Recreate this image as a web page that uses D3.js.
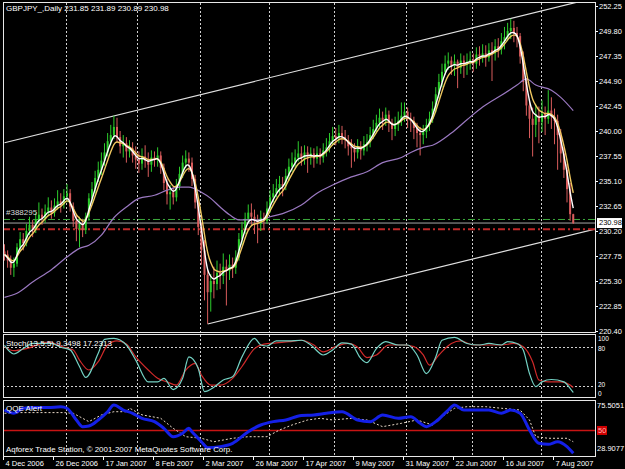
<!DOCTYPE html>
<html>
<meta charset="utf-8">
<style>
body { margin: 0; background: #000; }
text { font-family: "Liberation Sans", Arial, sans-serif; font-size: 8px; fill: #fff; }
.axis path, .axis line { fill: none; stroke: #fff; shape-rendering: crispEdges; }
.axis text, .scale { font-size: 7.5px; }
.frame { fill: none; stroke: #e8e8e8; shape-rendering: crispEdges; }
.grid { stroke: #d0d0d0; stroke-dasharray: 2,2; shape-rendering: crispEdges; }
</style>
<body>
<div id="chart"></div>

<script src="https://d3js.org/d3.v7.min.js"></script>
<script>

// ---- data (GBPJPY daily, 4 Dec 2006 .. mid Aug 2007) ----
var firstOpen = 228.2;
var closes = [
  227.9, 227.3, 226.6, 227.0, 228.6, 229.4, 229.0, 230.2, 230.8, 230.4,
  231.3, 231.8, 231.4, 232.1, 232.5, 232.0, 232.7, 233.1, 232.8, 233.6,
  233.9, 232.6, 231.2, 230.4, 230.9, 230.3, 231.6, 233.4, 234.3, 235.4,
  236.2, 237.1, 237.9, 239.0, 239.6, 240.4, 239.4, 238.5, 238.8, 238.0,
  238.3, 237.6, 237.2, 236.8, 237.5, 237.1, 236.7, 237.4, 237.2, 237.6,
  236.4, 234.9, 233.8, 234.0, 233.5, 234.6, 235.8, 236.9, 237.3, 236.9,
  235.3, 233.0, 230.6, 228.3, 225.9, 224.2, 225.3, 225.0, 226.1, 225.8,
  226.7, 226.3, 226.9, 226.6, 227.6, 229.4, 230.3, 231.4, 232.0, 231.6,
  231.2, 230.9, 231.5, 231.2, 232.4, 233.5, 233.9, 234.4, 234.8, 234.6,
  235.6, 236.5, 236.9, 237.4, 237.8, 237.3, 237.9, 237.5, 237.8, 237.3,
  237.8, 237.4, 238.1, 238.4, 239.0, 239.5, 239.3, 239.8, 239.4, 239.1,
  238.5, 238.3, 237.9, 238.5, 238.1, 238.7, 238.9, 239.6, 240.2, 240.8,
  241.3, 241.0, 241.6, 240.8, 240.2, 240.6, 241.0, 241.5, 241.9, 241.2,
  241.0, 240.3, 239.8, 239.6, 239.9, 240.6, 241.2, 242.2, 243.6, 244.8,
  245.8, 246.6, 246.9, 246.4, 246.8, 246.2, 246.9, 246.5, 246.8, 247.0,
  246.6, 247.5, 247.3, 247.6, 247.2, 247.9, 247.6, 248.3, 248.0, 248.8,
  249.2, 249.8, 250.1, 249.6, 249.3, 247.3, 244.8, 242.5, 241.2, 240.6,
  241.5, 240.9, 241.7, 241.2, 242.0, 241.4, 241.0, 239.6, 237.8, 236.2,
  234.3, 231.85, 230.98];
var highs = [
  228.9, 228.3, 227.8, 227.6, 229.0, 230.1, 230.0, 230.9, 231.6, 231.3,
  232.0, 233.0, 232.4, 232.8, 233.5, 233.2, 233.4, 234.2, 233.9, 234.3,
  234.8, 234.3, 233.0, 231.8, 231.6, 231.4, 232.0, 233.9, 235.0, 236.1,
  237.0, 237.9, 238.8, 239.8, 240.6, 241.5, 241.3, 240.0, 239.6, 239.4,
  239.1, 238.9, 238.5, 238.0, 238.3, 238.6, 237.9, 238.1, 238.0, 238.4,
  238.0, 236.8, 235.3, 234.7, 234.5, 235.3, 236.5, 237.6, 238.1, 237.9,
  237.4, 235.7, 233.4, 231.0, 229.3, 226.4, 226.0, 226.7, 227.3, 227.0,
  228.0, 227.4, 227.9, 227.6, 228.3, 230.0, 231.1, 232.0, 232.8, 232.9,
  232.3, 231.8, 232.2, 232.0, 233.1, 234.2, 234.8, 235.3, 235.6, 235.5,
  236.3, 237.3, 237.9, 238.2, 239.0, 238.5, 238.6, 238.5, 238.4, 238.3,
  238.5, 238.3, 238.8, 239.3, 239.8, 240.4, 240.3, 240.6, 240.5, 240.1,
  239.6, 239.2, 238.8, 239.2, 239.0, 239.5, 239.7, 240.4, 241.1, 241.6,
  242.2, 241.9, 242.3, 242.0, 241.2, 241.4, 241.9, 242.8, 242.8, 242.3,
  241.8, 241.4, 240.8, 240.4, 240.6, 241.2, 241.9, 242.9, 244.3, 245.6,
  246.6, 247.4, 247.7, 247.3, 247.5, 247.0, 247.6, 247.4, 247.6, 247.8,
  247.6, 248.2, 248.3, 248.5, 248.4, 248.6, 248.7, 249.0, 249.1, 249.6,
  250.2, 250.6, 251.0, 250.8, 250.2, 249.6, 247.8, 245.2, 243.0, 242.3,
  242.6, 242.4, 243.0, 242.4, 244.0, 243.3, 242.2, 241.6, 240.2, 238.4,
  236.8, 234.9, 231.89];
var lows = [
  227.3, 226.6, 225.9, 225.7, 226.7, 228.2, 228.3, 228.7, 229.8, 229.6,
  230.0, 231.0, 230.8, 231.0, 231.7, 231.4, 231.6, 232.3, 232.0, 232.4,
  233.0, 232.1, 230.6, 229.2, 228.6, 229.6, 229.9, 231.2, 232.9, 233.9,
  235.0, 235.7, 236.6, 237.5, 238.6, 239.2, 238.9, 237.8, 237.4, 236.9,
  237.4, 236.9, 236.3, 235.9, 236.2, 236.4, 235.5, 236.0, 236.5, 236.5,
  235.8, 234.2, 232.8, 232.3, 232.8, 233.1, 234.2, 235.4, 236.4, 236.0,
  234.6, 232.4, 229.8, 226.9, 223.4, 221.1, 222.3, 223.6, 224.4, 224.5,
  225.0, 222.9, 225.4, 225.6, 226.0, 227.3, 228.8, 229.9, 231.0, 230.8,
  229.9, 229.0, 230.2, 230.4, 230.9, 232.0, 233.0, 233.5, 233.8, 233.6,
  234.2, 235.1, 236.0, 236.4, 237.0, 236.6, 236.7, 235.9, 236.7, 236.4,
  236.8, 236.7, 236.9, 237.5, 237.9, 238.7, 238.6, 238.8, 238.7, 238.3,
  237.6, 236.4, 237.0, 237.3, 237.2, 237.6, 238.0, 238.4, 239.2, 239.8,
  240.3, 240.1, 240.5, 239.9, 239.1, 239.5, 240.0, 240.5, 240.9, 240.3,
  239.9, 239.2, 238.4, 237.6, 238.7, 239.3, 240.0, 240.8, 241.8, 243.2,
  244.3, 245.5, 246.0, 245.5, 245.4, 244.2, 245.6, 245.2, 245.5, 246.0,
  245.8, 246.1, 246.4, 246.7, 246.3, 246.8, 244.9, 246.9, 247.2, 247.5,
  248.0, 248.8, 249.0, 248.7, 248.2, 246.6, 243.9, 241.5, 239.3, 237.5,
  239.4, 238.8, 239.9, 239.6, 240.7, 240.2, 238.7, 236.2, 236.9, 235.4,
  233.0, 231.2, 230.89];

// slow moving average (purple), [bar, value]
var slowMa = [[0,223.7],[4,224.1],[9,225.2],[15,226.4],[20,227.65],[24,228.5],[27,228.8],
  [31,229.8],[35,231.5],[39,232.55],[43,233.4],[48,233.7],[52,234.2],[56,234.5],[59,234.5],
  [63,234.0],[66,233.4],[69,232.55],[72,231.8],[75,231.3],[82,231.3],[85,231.6],[89,231.9],
  [95,232.75],[100,233.9],[105,234.7],[111,235.5],[116,236.0],[121,236.9],[127,237.4],
  [130,237.9],[134,238.4],[137,238.6],[143,239.8],[148,241.1],[153,242.35],[159,243.5],
  [164,244.5],[167,245.1],[170,244.5],[175,244.0],[178,243.3],[182,242.0]];

// channel lines, anchors [bar, price]
var upperChannel = [[0, 238.85], [182, 252.53]];
var lowerChannel = [[65, 221.09], [182, 229.87]];

// order lines
var orderPrice = 231.33, stopPrice = 230.37, bidPrice = 230.98;
var orderLabel = "#388295";
var title = "GBPJPY_,Daily  231.85 231.89 230.89 230.98";

var priceTicks = [252.25, 249.80, 247.35, 244.90, 242.45, 240.00, 237.55, 235.10,
  232.65, 230.20, 227.75, 225.30, 222.85, 220.40];

// Stochastic(13,5,5), [bar, value]
var stochMain = [[0,83],[3,69.5],[6,78],[9,86],[15,86],[18,80],[21,76],[24,50],[26,33],
  [30,70.6],[32,92.5],[35,94],[39,83.6],[42,60],[46,26],[49,26],[51,31.5],[54,14],[57,31.5],
  [59,65],[62,47],[64,10.6],[67,17.5],[70,29],[73,34],[76,65],[80,94],[82,83.6],[84,82],
  [87,90],[91,90],[95,91],[98,83.6],[102,68],[105,75.8],[108,87],[111,85],[114,62.8],
  [116,56],[119,78],[122,88.8],[126,83.6],[129,83.6],[132,68],[135,39],[138,65],[140,91],
  [144,95.6],[148,86],[152,83.6],[155,86],[159,83.6],[161,88.8],[164,86],[166,75.8],
  [168,39],[170,18.5],[172,26],[175,29.7],[179,26],[181,16],[182,9.35]];
var stochSignal = [[0,81],[3,74.7],[7,78],[14,88],[19,80],[22,75.8],[24,60],[27,44.5],
  [30,57.5],[33,83.6],[36,90],[39,85],[42,65],[46,44.5],[49,31.5],[52,26],[55,21],[58,44.5],
  [61,55],[63,36.7],[66,21],[69,21],[73,31.5],[76,50],[80,78],[83,85],[87,87],[91,88.8],
  [95,91],[99,83.6],[102,73],[106,81],[110,86],[113,80],[116,64],[119,68],[123,83.6],
  [128,83.6],[131,81],[134,68],[136,52],[139,68],[143,86],[146,90],[150,83.6],[154,83.6],
  [159,83.6],[163,86],[166,81],[169,57.5],[171,29],[174,26],[178,26],[181,21],[182,17.23]];
var stochLevels = [80, 20];
var stochLabels = [100, 80, 20, 0];
var stochText = "Stoch(13,5,5) 9.3498 17.2313";

// QQE, [bar, value]
var qqeRsi = [[0,68.3],[3,65.4],[6,69.9],[9,70.5],[14,70.5],[18,71.3],[20,69.9],[23,59.4],
  [25,53.4],[27,54],[30,59.4],[33,66.8],[35,72.8],[38,68.3],[41,65.4],[44,60.9],[48,57.9],
  [51,51.9],[54,44.4],[57,47.5],[59,51.9],[60,48.9],[63,39.9],[65,34.6],[69,35.5],[73,38.5],
  [78,48.9],[82,54.9],[86,57.9],[90,59.4],[95,63.5],[99,63.9],[103,65.4],[108,66.8],
  [113,59.4],[117,57.9],[121,63.9],[126,60.9],[130,62.4],[133,56.4],[135,53.4],[138,57.9],
  [142,68.3],[144,72.8],[147,68.3],[151,68.3],[155,68.3],[159,65.4],[162,68.3],[165,65.4],
  [168,50.4],[171,38.5],[174,37.6],[177,39.9],[180,35.5],[182,29.5]];
var qqeTrail = [[0,65.4],[5,66],[19,66],[22,65.4],[27,57.9],[31,63.9],[35,66.8],[39,66.8],
  [40,70],[44,64],[50,60.9],[54,51.9],[58,44.4],[63,43],[67,39.9],[73,43],[78,44.4],
  [84,44.4],[88,50.4],[92,54.9],[97,59.4],[101,60.9],[105,59.4],[111,60.9],[116,59.4],
  [121,53.4],[127,56.4],[132,59.4],[137,54.9],[140,62.4],[144,69.9],[148,71.3],[154,71.3],
  [159,69.9],[165,68.3],[168,59.4],[170,44.4],[174,43],[180,43],[182,39.9]];
var qqeMax = 75.5051, qqeMin = 28.9077, qqeLevel = 50;
var qqeText = "QQE Alert";
var copyright = "Aqforex Trade Station, \u00a9 2001-2007 MetaQuotes Software Corp.";

// time axis
var dateBars = [0, 16, 32, 48, 64, 80, 96, 112, 128, 144, 160, 176];
var dateLabels = ["4 Dec 2006", "26 Dec 2006", "17 Jan 2007", "8 Feb 2007", "2 Mar 2007",
  "26 Mar 2007", "17 Apr 2007", "9 May 2007", "31 May 2007", "22 Jun 2007",
  "16 Jul 2007", "7 Aug 2007"];
var gridBars = [20, 43, 63, 85, 106, 129, 150, 172];

// ---- layout ----
var W = 625, H = 469;
var left = 3, right = 595;
var main = {top: 2.5, bottom: 332.5},
    stochP = {top: 334.5, bottom: 397.5},
    qqeP = {top: 400.5, bottom: 456.5};

var x = d3.scaleLinear().domain([0, 182]).range([4.5, 573.25]);
var y = d3.scaleLinear().domain([220.40, 252.25]).range([331, 6]);
var yS = d3.scaleLinear().domain([0, 100]).range([398.5, 334.5]);
var yQ = d3.scaleLinear().domain([qqeMin, qqeMax]).range([454, 402]);

var svg = d3.select("#chart").append("svg")
    .attr("width", W)
    .attr("height", H)
    .style("display", "block")
    .style("background", "#000");

svg.append("clipPath").attr("id", "mainClip")
  .append("rect")
    .attr("x", left).attr("y", main.top)
    .attr("width", right - left).attr("height", main.bottom - main.top);

// vertical dotted grid in all three windows
[main, stochP, qqeP].forEach(function(p) {
  svg.append("g").selectAll("line")
    .data(gridBars)
    .enter().append("line")
      .attr("class", "grid")
      .attr("x1", function(d) { return Math.round(x(d) - 1.5) + 0.5; })
      .attr("x2", function(d) { return Math.round(x(d) - 1.5) + 0.5; })
      .attr("y1", p.top)
      .attr("y2", p.bottom);
});

// ---- main window ----
var gMain = svg.append("g").attr("clip-path", "url(#mainClip)");

function trend(a) {
  var slope = (a[1][1] - a[0][1]) / (a[1][0] - a[0][0]);
  var endBar = 195;
  return [[a[0][0], a[0][1]], [endBar, a[0][1] + slope * (endBar - a[0][0])]];
}
var pline = d3.line()
    .x(function(d) { return x(d[0]); })
    .y(function(d) { return y(d[1]); });

gMain.selectAll(".channel")
  .data([upperChannel, lowerChannel])
  .enter().append("path")
    .attr("class", "channel")
    .attr("d", function(d) { return pline(trend(d)); })
    .attr("fill", "none")
    .attr("stroke", "#e0e0e0")
    .attr("stroke-width", 1.2);

// horizontal order / bid lines
gMain.append("line")
    .attr("x1", left).attr("x2", right)
    .attr("y1", y(bidPrice)).attr("y2", y(bidPrice))
    .attr("stroke", "#a8a8a8").attr("stroke-width", 1);
gMain.append("line")
    .attr("x1", left).attr("x2", right)
    .attr("y1", y(orderPrice)).attr("y2", y(orderPrice))
    .attr("stroke", "#3caa3c").attr("stroke-width", 1)
    .attr("stroke-dasharray", "7,3,2,3");
gMain.append("line")
    .attr("x1", left).attr("x2", right)
    .attr("y1", y(stopPrice)).attr("y2", y(stopPrice))
    .attr("stroke", "#c02828").attr("stroke-width", 2)
    .attr("stroke-dasharray", "7,3,2,3");

// candles
var bars = closes.map(function(c, i) {
  var o = i ? closes[i - 1] : firstOpen;
  return {i: i, o: o, h: highs[i], l: lows[i], c: c};
});
var bull = "#2ccc2c", bear = "#d85c5c";
var candle = gMain.append("g").selectAll("g")
  .data(bars)
  .enter().append("g");
candle.append("line")
    .attr("x1", function(d) { return x(d.i); })
    .attr("x2", function(d) { return x(d.i); })
    .attr("y1", function(d) { return y(d.h); })
    .attr("y2", function(d) { return y(d.l); })
    .attr("stroke", function(d) { return d.c >= d.o ? bull : bear; })
    .attr("stroke-width", 1);
candle.append("rect")
    .attr("x", function(d) { return x(d.i) - 1; })
    .attr("width", 2)
    .attr("y", function(d) { return y(Math.max(d.o, d.c)); })
    .attr("height", function(d) { return Math.max(1, Math.abs(y(d.o) - y(d.c))); })
    .attr("fill", function(d) { return d.c >= d.o ? bull : bear; });

// moving averages
function ema(arr, n) {
  var k = 2 / (n + 1), out = [];
  arr.forEach(function(v, i) { out.push(i ? out[i - 1] + k * (v - out[i - 1]) : v); });
  return out;
}
var fast = ema(closes, 3), mid = ema(closes, 5);
var maLine = d3.line()
    .x(function(d, i) { return x(i); })
    .y(function(d) { return y(d); })
    .curve(d3.curveBasis);

gMain.append("path")
    .datum(slowMa)
    .attr("d", pline.curve(d3.curveMonotoneX))
    .attr("fill", "none").attr("stroke", "#9a78c0").attr("stroke-width", 1.2);
gMain.append("path")
    .datum(mid)
    .attr("d", maLine)
    .attr("fill", "none").attr("stroke", "#f0c860").attr("stroke-width", 1.4);
gMain.append("path")
    .datum(fast)
    .attr("d", maLine)
    .attr("fill", "none").attr("stroke", "#ffffff").attr("stroke-width", 1.4);

svg.append("text")
    .attr("x", 6).attr("y", y(orderPrice) - 4)
    .style("fill", "#d8d8d8")
    .text(orderLabel);

svg.append("text")
    .attr("x", 6).attr("y", 11)
    .text(title);

// price axis
var yAxis = d3.axisRight(y).tickValues(priceTicks).tickSize(3)
    .tickFormat(d3.format(".2f"));
var ga = svg.append("g")
    .attr("class", "axis")
    .attr("transform", "translate(" + right + ",0)")
    .call(yAxis);
ga.select(".domain").remove();
ga.selectAll("text").attr("x", 4).attr("dy", "0.32em");

// bid price box
var bidBox = svg.append("g").attr("transform", "translate(" + (right + 2) + "," + y(bidPrice) + ")");
bidBox.append("rect").attr("x", 0).attr("y", -5).attr("width", 25).attr("height", 10)
    .attr("fill", "#fff");
bidBox.append("text").attr("class", "scale").attr("x", 2).attr("dy", "0.32em").style("fill", "#000")
    .text(d3.format(".2f")(bidPrice));

// ---- stochastic window ----
var sline = d3.line()
    .x(function(d) { return x(d[0]); })
    .y(function(d) { return yS(d[1]); })
    .curve(d3.curveMonotoneX);

svg.append("g").selectAll("line")
  .data(stochLevels)
  .enter().append("line")
    .attr("class", "grid")
    .attr("x1", left).attr("x2", right)
    .attr("y1", function(d) { return Math.round(yS(d)) + 0.5; })
    .attr("y2", function(d) { return Math.round(yS(d)) + 0.5; });

svg.append("path").datum(stochSignal).attr("d", sline)
    .attr("fill", "none").attr("stroke", "#d02a2a").attr("stroke-width", 1.2);
svg.append("path").datum(stochMain).attr("d", sline)
    .attr("fill", "none").attr("stroke", "#74d2c4").attr("stroke-width", 1.2);

svg.append("text").attr("x", 6).attr("y", 346).text(stochText);

svg.append("g").selectAll("text")
  .data(stochLabels)
  .enter().append("text")
    .attr("class", "scale")
    .style("font-size", "6.5px")
    .attr("x", right + 3)
    .attr("y", function(d) { return yS(d) + (d === 100 ? 4 : d === 80 ? 2 : d === 20 ? -1 : d === 0 ? -4.5 : 0); })
    .attr("dy", "0.32em")
    .text(function(d) { return d; });

// ---- QQE window ----
var qline = d3.line()
    .x(function(d) { return x(d[0]); })
    .y(function(d) { return yQ(d[1]); })
    .curve(d3.curveMonotoneX);

svg.append("line")
    .attr("x1", left).attr("x2", right)
    .attr("y1", yQ(qqeLevel)).attr("y2", yQ(qqeLevel))
    .attr("stroke", "#c81414").attr("stroke-width", 1.5);

svg.append("path").datum(qqeTrail).attr("d", qline.curve(d3.curveLinear))
    .attr("fill", "none").attr("stroke", "#e8d8c8").attr("stroke-width", 1)
    .attr("stroke-dasharray", "2,2");
svg.append("path").datum(qqeRsi).attr("d", qline.curve(d3.curveMonotoneX))
    .attr("fill", "none").attr("stroke", "#1420e8").attr("stroke-width", 3);

svg.append("text").attr("x", 6).attr("y", 411).text(qqeText);
svg.append("text").attr("x", 6).attr("y", 452).style("font-size", "7.9px").text(copyright);

svg.append("text").attr("class", "scale").attr("x", right + 2).attr("y", yQ(qqeMax) + 4).attr("dy", "0.32em")
    .text(qqeMax.toFixed(4));
svg.append("text").attr("class", "scale").attr("x", right + 2).attr("y", yQ(qqeMin) - 5).attr("dy", "0.32em")
    .text(qqeMin.toFixed(4));
var lvl = svg.append("g").attr("transform", "translate(" + (right + 2) + "," + yQ(qqeLevel) + ")");
lvl.append("rect").attr("x", 0).attr("y", -4.5).attr("width", 10).attr("height", 9)
    .attr("fill", "#d00000");
lvl.append("text").attr("class", "scale").attr("x", 1).attr("dy", "0.32em").style("fill", "#ffb0b0").text(qqeLevel);

// ---- frames ----
[main, stochP, qqeP].forEach(function(p) {
  svg.append("rect")
      .attr("class", "frame")
      .attr("x", left + 0.5).attr("y", p.top)
      .attr("width", right - left).attr("height", p.bottom - p.top);
});

// ---- time axis ----
var xAxis = d3.axisBottom(x)
    .tickValues(dateBars)
    .tickSize(3)
    .tickFormat(function(d, i) { return dateLabels[i]; });
var gx = svg.append("g")
    .attr("class", "axis")
    .attr("transform", "translate(-1.5," + qqeP.bottom + ")")
    .call(xAxis);
gx.select(".domain").remove();
gx.selectAll("text")
    .attr("text-anchor", "start")
    .attr("x", 2)
    .attr("y", 4);

</script>
</body>
</html>
